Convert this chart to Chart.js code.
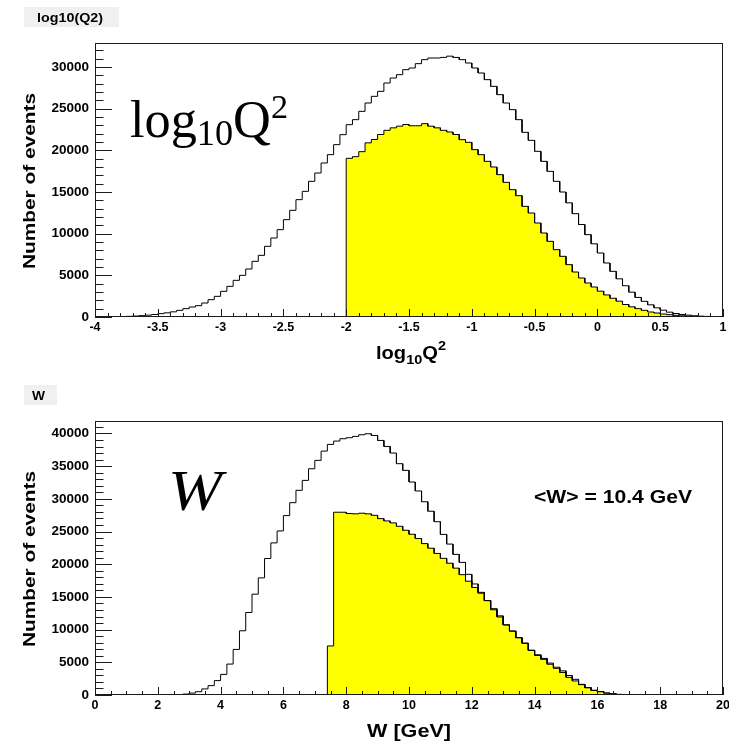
<!DOCTYPE html>
<html><head><meta charset="utf-8">
<script src="https://cdn.jsdelivr.net/npm/chart.js@4.4.0/dist/chart.umd.min.js"></script>
<style>
html,body{margin:0;padding:0;background:#fff;}
#wrap{position:relative;width:729px;height:742px;overflow:hidden;background:#fff;}
canvas{position:absolute;left:0;}
#c1{top:0}
#c2{top:378px}
</style></head><body>
<div id="wrap"><canvas id="c1" width="729" height="378"></canvas><canvas id="c2" width="729" height="364"></canvas></div>
<script>
// ---------- DATA ----------
// log10(Q^2): 100 bins over [-4, 1]
const q2Range = [-4, 1];
const q2All = [5,10,20,35,55,80,115,160,220,300,
400,500,620,800,1000,1200,1360,1680,2080,2480,
3080,3680,4400,5000,5760,6680,7400,8480,9480,10480,
11680,12800,14080,15080,16280,17280,18480,19480,20680,21880,
23080,23680,24680,25680,26480,27080,28080,28680,29080,29680,
29880,30400,30880,31080,31080,31150,31300,31150,30880,30480,
29880,29280,28480,27680,26680,25680,24880,23680,22160,21200,
19880,18680,17480,16280,15000,13700,12400,11100,9880,8780,
7680,6480,5480,4580,3750,2980,2350,1880,1460,1100,
820,580,420,300,220,150,100,70,50,30];
const q2Cut = [0,0,0,0,0,0,0,0,0,0,
0,0,0,0,0,0,0,0,0,0,
0,0,0,0,0,0,0,0,0,0,
0,0,0,0,0,0,0,0,0,0,
19040,19240,19840,20900,21300,21900,22400,22700,22900,23100,
22950,22950,23200,22900,22700,22400,22200,21900,21280,20960,
20080,19480,18680,18000,17080,16160,15280,14560,13280,12480,
11280,10080,9080,8080,7280,6280,5400,4680,4080,3600,
3100,2650,2250,1900,1500,1220,1000,800,600,480,
360,280,200,140,100,60,40,20,10,5];
const q2XTicks = [-4,-3.5,-3,-2.5,-2,-1.5,-1,-0.5,0,0.5,1];
const q2YTicks = [0,5000,10000,15000,20000,25000,30000];
const q2YMax = 32880;

// W: 100 bins over [0, 20] GeV
const wRange = [0, 20];
const wAll = [0,0,0,0,0,0,0,0,0,0,
0,10,30,70,140,290,500,930,1430,2200,
3150,4730,6970,9820,12620,15420,17910,20870,23260,25090,
27430,29410,31300,32820,34600,35880,37300,38320,38830,39190,
39340,39540,39800,39950,39690,38930,38010,37000,35370,34350,
32570,31200,29550,28100,26500,24560,23080,21500,20280,18450,
16980,15700,14420,13030,11930,10740,9800,8780,7940,6850,
6150,5600,4880,4250,3690,2980,2400,1630,1120,710,
510,300,200,100,50,20,0,0,0,0,
0,0,0,0,0,0,0,0,0,0];
const wCut = [0,0,0,0,0,0,0,0,0,0,
0,0,0,0,0,0,0,0,0,0,
0,0,0,0,0,0,0,0,0,0,
0,0,0,0,0,0,0,
7500,27950,27950,27750,27700,27800,27700,27480,26970,26620,
26310,25800,25190,24580,23920,23150,22450,21650,20900,20150,
19400,18400,17400,16450,15570,14450,13200,12100,10700,9750,
8750,7900,6820,6050,5450,4700,4080,3450,2700,2150,
1580,1120,710,510,300,150,80,30,0,0,
0,0,0,0,0,0,0,0,0,0,0,0,0];
const wXTicks = [0,2,4,6,8,10,12,14,16,18,20];
const wYTicks = [0,5000,10000,15000,20000,25000,30000,35000,40000];
const wYMax = 41900;

const yTitle = 'Number of events';
const meanWText = '<W> = 10.4 GeV';

// ---------- helpers ----------
const SANS = "'Liberation Sans', Arial, Helvetica, sans-serif";
const SERIF = "'Liberation Serif', 'Times New Roman', serif";

function histPoints(vals, range) {
  const n = vals.length, w = (range[1] - range[0]) / n;
  const pts = [{x: range[0], y: 0}];
  vals.forEach((v, i) => {
    pts.push({x: range[0] + i * w, y: v});
    pts.push({x: range[0] + (i + 1) * w, y: v});
  });
  pts.push({x: range[1], y: 0});
  return pts;
}
function fmt(v) { return String(Math.round(v * 100) / 100); }

function txt(ctx, s, x, y, font, o) {
  o = o || {};
  ctx.save();
  ctx.font = font; ctx.fillStyle = o.color || '#000';
  ctx.textAlign = o.align || 'left'; ctx.textBaseline = o.baseline || 'alphabetic';
  ctx.translate(x, y);
  if (o.rot) ctx.rotate(o.rot);
  if (o.width) { const w = ctx.measureText(s).width; ctx.scale(o.width / w, 1); }
  ctx.fillText(s, 0, 0);
  ctx.restore();
}
// rich text: parts [{t,font,dy}], drawn left to right, scaled to total width, anchored
function rich(ctx, parts, x, y, o) {
  o = o || {};
  ctx.save();
  let total = 0;
  const ws = parts.map(p => { ctx.font = p.font; const w = ctx.measureText(p.t).width; total += w; return w; });
  const sx = o.width ? o.width / total : 1;
  let start = x;
  if (o.align === 'center') start = x - total * sx / 2;
  ctx.translate(start, y);
  ctx.scale(sx, 1);
  ctx.fillStyle = '#000'; ctx.textBaseline = 'alphabetic'; ctx.textAlign = 'left';
  let cx = 0;
  parts.forEach((p, i) => { ctx.font = p.font; ctx.fillText(p.t, cx, p.dy || 0); cx += ws[i]; });
  ctx.restore();
}

function decorPlugin(cfg) {
  return {
    id: 'decor',
    afterDraw(chart) {
      const ctx = chart.ctx, a = chart.chartArea, xs = chart.scales.x, ys = chart.scales.y;
      ctx.save();
      ctx.strokeStyle = '#1a1a1a'; ctx.lineWidth = 1;
      // ticks
      ctx.beginPath();
      const bot = Math.round(a.bottom), left = Math.round(a.left);
      const nx = Math.round((cfg.range[1] - cfg.range[0]) / cfg.xMinor);
      for (let k = 0; k <= nx; k++) {
        const v = cfg.range[0] + k * cfg.xMinor;
        const major = cfg.xTicks.some(t => Math.abs(t - v) < 1e-6);
        const px = Math.round(xs.getPixelForValue(v)) + 0.5;
        ctx.moveTo(px, bot); ctx.lineTo(px, bot - (major ? 8 : 4));
      }
      const ny = Math.floor(cfg.yMax / cfg.yMinor);
      for (let k = 0; k <= ny; k++) {
        const v = k * cfg.yMinor;
        const major = cfg.yTicks.indexOf(v) >= 0;
        const py = Math.round(ys.getPixelForValue(v)) + 0.5;
        ctx.moveTo(left, py); ctx.lineTo(left + (major ? 17 : 8.5), py);
      }
      ctx.stroke();
      // frame
      ctx.strokeRect(left + 0.5, Math.round(a.top) + 0.5, Math.round(a.right) - left - 1, bot - Math.round(a.top) - 1);
      ctx.restore();
      // header box
      ctx.save();
      ctx.fillStyle = '#f0f0f0';
      ctx.fillRect(24, 7, cfg.headerW, 20);
      ctx.restore();
      txt(ctx, cfg.header, cfg.headerX, 22, 'bold 13px ' + SANS, {width: cfg.headerTextW});
      // y title
      txt(ctx, yTitle, 35, 181, 'bold 17px ' + SANS, {rot: -Math.PI / 2, align: 'center', width: 176});
      cfg.extra(ctx);
    }
  };
}

function makeChart(canvas, cfg) {
  const H = canvas.height;
  return new Chart(canvas, {
    type: 'line',
    data: { datasets: [
      { label: 'all', data: histPoints(cfg.all, cfg.range), borderColor: '#000', borderWidth: 1,
        fill: false, pointRadius: 0, tension: 0, borderJoinStyle: 'miter' },
      { label: 'cut', data: histPoints(cfg.cut, cfg.range), borderColor: '#000', borderWidth: 1,
        backgroundColor: '#ffff00', fill: 'origin', pointRadius: 0, tension: 0, borderJoinStyle: 'miter' }
    ]},
    options: {
      responsive: false, animation: false, devicePixelRatio: 1,
      events: [],
      layout: { padding: { top: 43, right: 6, left: 0, bottom: 0 } },
      plugins: { legend: {display: false}, tooltip: {enabled: false}, title: {display: false} },
      scales: {
        x: { type: 'linear', min: cfg.range[0], max: cfg.range[1],
             grid: {display: false, drawTicks: false}, border: {display: false},
             afterBuildTicks: s => { s.ticks = cfg.xTicks.map(v => ({value: v})); },
             afterFit: s => { s.height = H - 317; s.paddingLeft = 0; s.paddingRight = 0; },
             ticks: { autoSkip: false, maxRotation: 0, minRotation: 0, padding: 3, color: '#000',
                      font: {family: SANS, weight: 'bold', size: 12.5}, callback: v => fmt(v) } },
        y: { type: 'linear', min: 0, max: cfg.yMax,
             grid: {display: false, drawTicks: false}, border: {display: false},
             afterBuildTicks: s => { s.ticks = cfg.yTicks.map(v => ({value: v})); },
             afterFit: s => { s.width = 95; },
             ticks: { autoSkip: false, padding: 6, color: '#000',
                      font: {family: SANS, weight: 'bold', size: 13.5}, callback: v => fmt(v) } }
      }
    },
    plugins: [decorPlugin(cfg)]
  });
}

makeChart(document.getElementById('c1'), {
  range: q2Range, all: q2All, cut: q2Cut, xTicks: q2XTicks, yTicks: q2YTicks, yMax: q2YMax,
  xMinor: 0.1, yMinor: 1000, header: 'log10(Q2)', headerX: 37, headerW: 95, headerTextW: 66,
  extra(ctx) {
    // big label
    rich(ctx, [
      {t: 'log', font: '52px ' + SERIF},
      {t: '10', font: '36px ' + SERIF, dy: 8},
      {t: 'Q', font: '52px ' + SERIF},
      {t: '2', font: '34px ' + SERIF, dy: -19}
    ], 130, 137, {width: 158});
    // x title
    rich(ctx, [
      {t: 'log', font: 'bold 18px ' + SANS},
      {t: '10', font: 'bold 13px ' + SANS, dy: 5},
      {t: 'Q', font: 'bold 18px ' + SANS},
      {t: '2', font: 'bold 13px ' + SANS, dy: -9}
    ], 411, 359, {width: 70, align: 'center'});
  }
});

makeChart(document.getElementById('c2'), {
  range: wRange, all: wAll, cut: wCut, xTicks: wXTicks, yTicks: wYTicks, yMax: wYMax,
  xMinor: 0.5, yMinor: 1000, header: 'W', headerX: 32, headerW: 33, headerTextW: 13,
  extra(ctx) {
    txt(ctx, 'W', 168, 132, 'italic 56px ' + SERIF, {width: 54});
    txt(ctx, meanWText, 534, 124.5, 'bold 19px ' + SANS, {width: 158});
    txt(ctx, 'W [GeV]', 409, 359, 'bold 19px ' + SANS, {align: 'center', width: 84});
  }
});
</script>
</body></html>
